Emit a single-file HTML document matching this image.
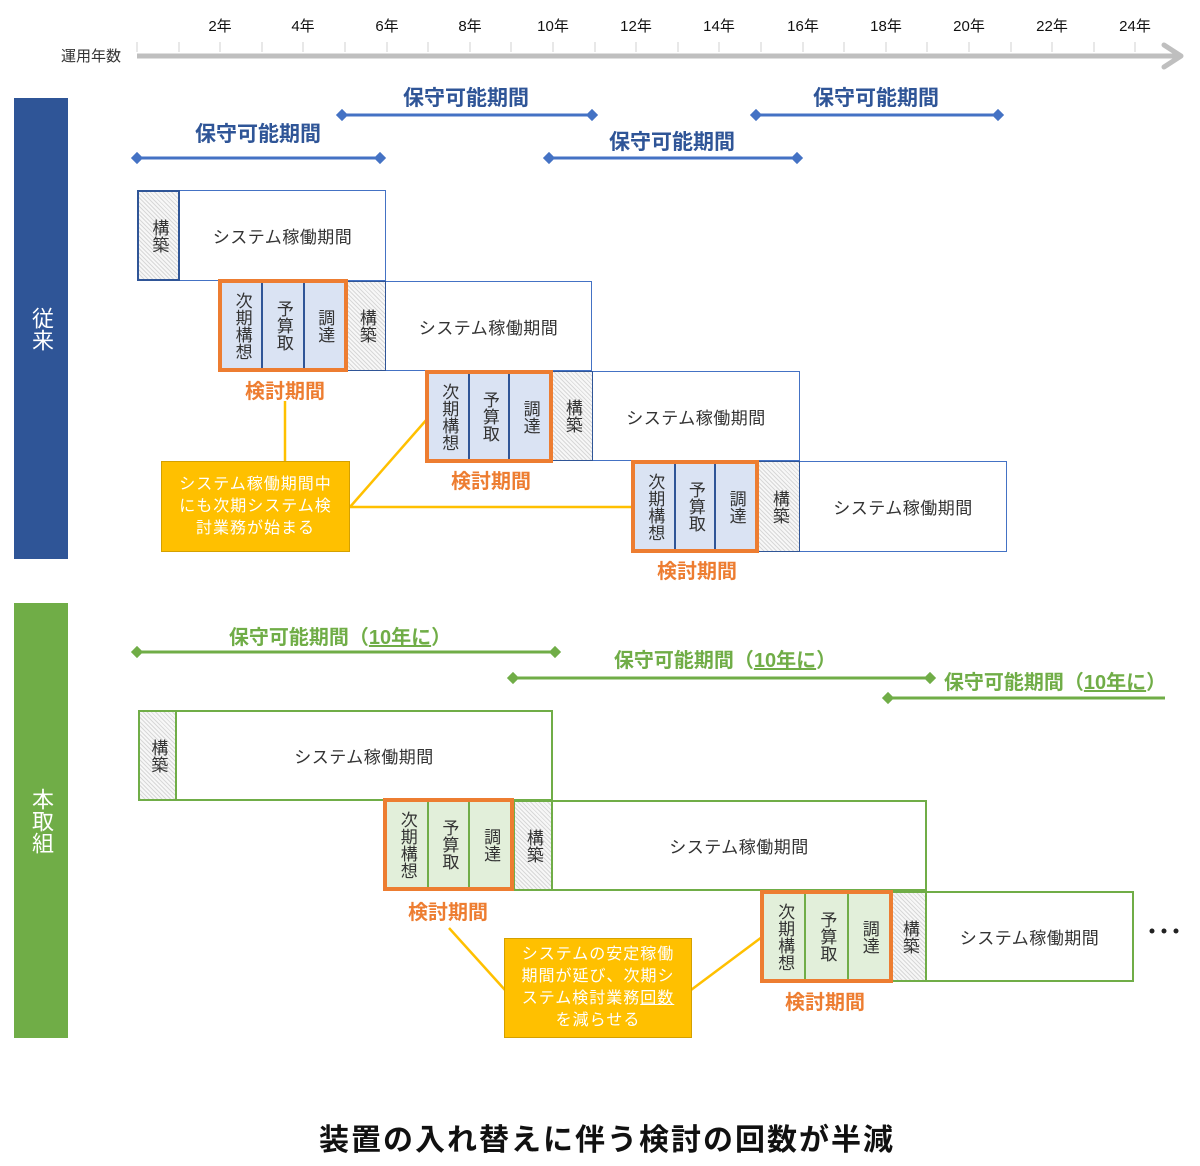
<!DOCTYPE html>
<html><head><meta charset="utf-8">
<style>
body{margin:0;width:1200px;height:1166px;background:#fff;position:relative;overflow:hidden;font-family:"Liberation Sans","Noto Sans CJK JP",sans-serif;}
.a{position:absolute;box-sizing:border-box;}
.sys{position:absolute;box-sizing:border-box;background:#fff;display:flex;align-items:center;justify-content:center;font-size:17px;color:#333;letter-spacing:0.5px;}
.b{border:1.5px solid #4472c4;}
.g{border:2px solid #70ad47;}
.bld{position:absolute;box-sizing:border-box;background:repeating-linear-gradient(45deg,#d8d8d8 0 1px,#f7f7f7 1px 3px);display:flex;align-items:center;justify-content:center;font-size:17px;color:#333;}
.bld span,.c span{writing-mode:vertical-rl;line-height:1.05;}
.or{position:absolute;box-sizing:border-box;border:4px solid #ed7d31;display:flex;}
.c{flex:1;display:flex;align-items:center;justify-content:center;font-size:17px;color:#333;}
.ob .c{background:#dae3f3;border-left:2px solid #2f5597;}
.og .c{background:#e2efda;border-left:2px solid #70ad47;}
.or .c:first-child{border-left:none;}
.lbl{position:absolute;font-weight:bold;font-size:20px;transform:translateX(-50%);white-space:nowrap;}
.kt{color:#ed7d31;}
.bl{color:#2f5597;font-size:21px;}
.gl{color:#70ad47;}
.call{position:absolute;box-sizing:border-box;background:#ffc000;border:1.5px solid #d4a000;color:#fff;font-size:16px;line-height:22px;text-align:center;display:flex;align-items:center;justify-content:center;letter-spacing:1px;}
.side{position:absolute;color:#fff;font-size:22px;writing-mode:vertical-rl;display:flex;align-items:center;justify-content:center;}
.yr{position:absolute;top:15px;font-size:15px;color:#111;transform:translateX(-50%);}
</style></head><body>
<svg class="a" style="left:0;top:0" width="1200" height="1166">
 <g stroke="#d0d0d0" stroke-width="1">
  <line x1="137" y1="42" x2="137" y2="52"/><line x1="179" y1="42" x2="179" y2="52"/><line x1="220" y1="42" x2="220" y2="52"/><line x1="262" y1="42" x2="262" y2="52"/><line x1="303" y1="42" x2="303" y2="52"/><line x1="345" y1="42" x2="345" y2="52"/><line x1="387" y1="42" x2="387" y2="52"/><line x1="428" y1="42" x2="428" y2="52"/><line x1="470" y1="42" x2="470" y2="52"/><line x1="511" y1="42" x2="511" y2="52"/><line x1="553" y1="42" x2="553" y2="52"/><line x1="595" y1="42" x2="595" y2="52"/><line x1="636" y1="42" x2="636" y2="52"/><line x1="678" y1="42" x2="678" y2="52"/><line x1="719" y1="42" x2="719" y2="52"/><line x1="761" y1="42" x2="761" y2="52"/><line x1="803" y1="42" x2="803" y2="52"/><line x1="844" y1="42" x2="844" y2="52"/><line x1="886" y1="42" x2="886" y2="52"/><line x1="927" y1="42" x2="927" y2="52"/><line x1="969" y1="42" x2="969" y2="52"/><line x1="1011" y1="42" x2="1011" y2="52"/><line x1="1052" y1="42" x2="1052" y2="52"/><line x1="1094" y1="42" x2="1094" y2="52"/><line x1="1135" y1="42" x2="1135" y2="52"/>
 </g>
 <line x1="137" y1="56" x2="1180" y2="56" stroke="#bfbfbf" stroke-width="5"/>
 <polyline points="1164,45 1181,56 1164,67" fill="none" stroke="#bfbfbf" stroke-width="5" stroke-linecap="round" stroke-linejoin="round"/>
 <g stroke="#4472c4" stroke-width="3" fill="#4472c4">
  <line x1="137" y1="158" x2="380" y2="158"/><path d="M133 158l4-4 4 4-4 4z M376 158l4-4 4 4-4 4z"/>
  <line x1="342" y1="115" x2="592" y2="115"/><path d="M338 115l4-4 4 4-4 4z M588 115l4-4 4 4-4 4z"/>
  <line x1="549" y1="158" x2="797" y2="158"/><path d="M545 158l4-4 4 4-4 4z M793 158l4-4 4 4-4 4z"/>
  <line x1="756" y1="115" x2="998" y2="115"/><path d="M752 115l4-4 4 4-4 4z M994 115l4-4 4 4-4 4z"/>
 </g>
 <g stroke="#70ad47" stroke-width="3" fill="#70ad47">
  <line x1="137" y1="652" x2="555" y2="652"/><path d="M133 652l4-4 4 4-4 4z M551 652l4-4 4 4-4 4z"/>
  <line x1="513" y1="678" x2="930" y2="678"/><path d="M509 678l4-4 4 4-4 4z M926 678l4-4 4 4-4 4z"/>
  <line x1="888" y1="698" x2="1165" y2="698"/><path d="M884 698l4-4 4 4-4 4z"/>
 </g>
 <g stroke="#ffc000" stroke-width="2.5" fill="none">
  <line x1="285" y1="401" x2="285" y2="462"/>
  <line x1="350" y1="507" x2="428" y2="418"/>
  <line x1="350" y1="507" x2="632" y2="507"/>
  <line x1="449" y1="928" x2="505" y2="990"/>
  <line x1="691" y1="990" x2="762" y2="937"/>
 </g>
 <g fill="#222"><circle cx="1152" cy="931" r="2.5"/><circle cx="1164" cy="931" r="2.5"/><circle cx="1176" cy="931" r="2.5"/></g>
</svg>
<div class="yr" style="left:220px">2年</div><div class="yr" style="left:303px">4年</div><div class="yr" style="left:387px">6年</div><div class="yr" style="left:470px">8年</div><div class="yr" style="left:553px">10年</div><div class="yr" style="left:636px">12年</div><div class="yr" style="left:719px">14年</div><div class="yr" style="left:803px">16年</div><div class="yr" style="left:886px">18年</div><div class="yr" style="left:969px">20年</div><div class="yr" style="left:1052px">22年</div><div class="yr" style="left:1135px">24年</div>
<div class="a" style="left:61px;top:45px;font-size:15px;color:#333">運用年数</div>

<div class="side" style="left:14px;top:98px;width:54px;height:461px;background:#2f5597">従来</div>
<div class="side" style="left:14px;top:603px;width:54px;height:435px;background:#70ad47">本取組</div>

<div class="lbl bl" style="left:258px;top:118px">保守可能期間</div>
<div class="lbl bl" style="left:466px;top:82px">保守可能期間</div>
<div class="lbl bl" style="left:672px;top:126px">保守可能期間</div>
<div class="lbl bl" style="left:876px;top:82px">保守可能期間</div>

<div class="sys b" style="left:179px;top:190px;width:207px;height:91px">システム稼働期間</div>
<div class="bld" style="left:137px;top:190px;width:43px;height:91px;border:2px solid #2f5597"><span>構築</span></div>

<div class="sys b" style="left:385px;top:281px;width:207px;height:90px">システム稼働期間</div>
<div class="bld" style="left:346px;top:281px;width:40px;height:90px;border:1.5px solid #2f5597"><span>構築</span></div>
<div class="or ob" style="left:218px;top:279px;width:130px;height:93px"><div class="c"><span>次期構想</span></div><div class="c"><span>予算取</span></div><div class="c"><span>調達</span></div></div>
<div class="lbl kt" style="left:285px;top:375px">検討期間</div>

<div class="sys b" style="left:592px;top:371px;width:208px;height:90px">システム稼働期間</div>
<div class="bld" style="left:551px;top:371px;width:42px;height:90px;border:1.5px solid #2f5597"><span>構築</span></div>
<div class="or ob" style="left:425px;top:370px;width:128px;height:93px"><div class="c"><span>次期構想</span></div><div class="c"><span>予算取</span></div><div class="c"><span>調達</span></div></div>
<div class="lbl kt" style="left:491px;top:465px">検討期間</div>

<div class="sys b" style="left:799px;top:461px;width:208px;height:91px">システム稼働期間</div>
<div class="bld" style="left:758px;top:461px;width:42px;height:91px;border:1.5px solid #2f5597"><span>構築</span></div>
<div class="or ob" style="left:631px;top:460px;width:128px;height:93px"><div class="c"><span>次期構想</span></div><div class="c"><span>予算取</span></div><div class="c"><span>調達</span></div></div>
<div class="lbl kt" style="left:697px;top:555px">検討期間</div>

<div class="call" style="left:161px;top:461px;width:189px;height:91px"><div>システム稼働期間中<br>にも次期システム検<br>討業務が始まる</div></div>

<div class="lbl gl" style="left:340px;top:621px">保守可能期間（<u>10年に</u>）</div>
<div class="lbl gl" style="left:725px;top:644px">保守可能期間（<u>10年に</u>）</div>
<div class="lbl gl" style="left:1055px;top:666px">保守可能期間（<u>10年に</u>）</div>

<div class="sys g" style="left:175px;top:710px;width:378px;height:91px">システム稼働期間</div>
<div class="bld" style="left:138px;top:710px;width:39px;height:91px;border:2px solid #70ad47"><span>構築</span></div>

<div class="sys g" style="left:551px;top:800px;width:376px;height:91px">システム稼働期間</div>
<div class="bld" style="left:513px;top:800px;width:40px;height:91px;border:2px solid #70ad47"><span>構築</span></div>
<div class="or og" style="left:383px;top:798px;width:131px;height:93px"><div class="c"><span>次期構想</span></div><div class="c"><span>予算取</span></div><div class="c"><span>調達</span></div></div>
<div class="lbl kt" style="left:448px;top:896px">検討期間</div>

<div class="sys g" style="left:925px;top:891px;width:209px;height:91px">システム稼働期間</div>
<div class="bld" style="left:891px;top:891px;width:36px;height:91px;border:2px solid #70ad47"><span>構築</span></div>
<div class="or og" style="left:760px;top:890px;width:133px;height:93px"><div class="c"><span>次期構想</span></div><div class="c"><span>予算取</span></div><div class="c"><span>調達</span></div></div>
<div class="lbl kt" style="left:825px;top:986px">検討期間</div>

<div class="call" style="left:504px;top:938px;width:188px;height:100px"><div>システムの安定稼働<br>期間が延び、次期シ<br>ステム検討業務<u>回数</u><br>を減らせる</div></div>

<div class="lbl" style="left:607px;top:1115px;font-size:30px;color:#111;letter-spacing:2px">装置の入れ替えに伴う検討の回数が半減</div>
</body></html>
